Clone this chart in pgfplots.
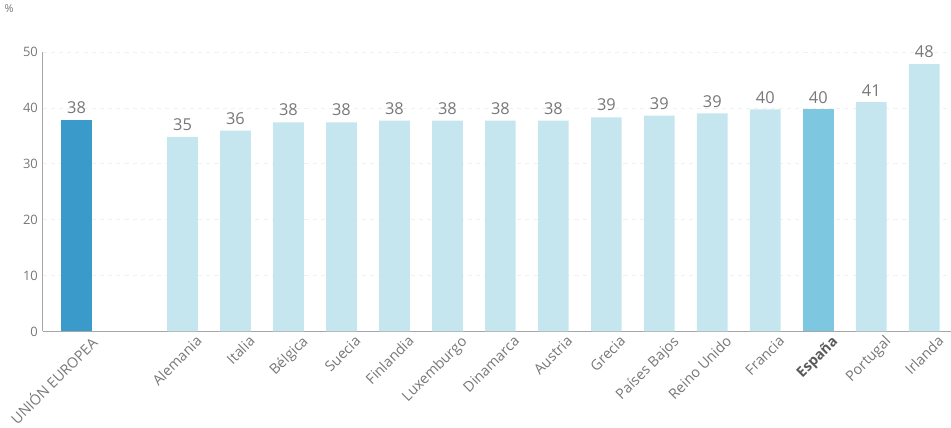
\documentclass[border=0pt]{standalone}
\usepackage{pgfplots}
\pgfplotsset{compat=1.18}
\usepackage{fontspec}
\setmainfont{Open Sans}
\definecolor{eublue}{HTML}{3A9BCB}
\definecolor{lightbar}{HTML}{C6E6EF}
\definecolor{esblue}{HTML}{7DC7E0}
\definecolor{txtgray}{HTML}{777777}
\begin{document}
\begin{tikzpicture}
\begin{axis}[
    scale only axis,
    width=666pt, height=205pt,
    ybar, bar width=22.5pt, bar shift=0pt,
    xmin=-0.64, xmax=16.5,
    ymin=0, ymax=50,
    ytick={0,10,...,50},
    xtick={0,2,3,4,5,6,7,8,9,10,11,12,13,14,15,16},
    xticklabels={UNIÓN EUROPEA,Alemania,Italia,Bélgica,Suecia,Finlandia,Luxemburgo,Dinamarca,Austria,Grecia,Países Bajos,Reino Unido,Francia,\textbf{\color{black!65}España},Portugal,Irlanda},
    x tick label style={rotate=45, anchor=north east, font=\fontsize{10.5}{12}\selectfont, text=txtgray, inner sep=1pt, xshift=6pt, yshift=-7pt},
    y tick label style={font=\fontsize{9.5}{11}\selectfont, text=txtgray},
    /pgf/number format/assume math mode=true,
    major tick length=0pt,
    axis x line*=bottom, axis y line*=left,
    axis line style={gray!70, -},
    ymajorgrids, grid style={gray!12, dashed},
    point meta=explicit symbolic,
    nodes near coords,
    every node near coord/.append style={font=\fontsize{12}{14}\selectfont, text=txtgray, yshift=1pt},
    clip=false,
]
\addplot[fill=eublue, draw=none] coordinates {(0,37.9) [38]};
\addplot[fill=lightbar, draw=none] coordinates {
    (2,34.8) [35]
    (3,35.9) [36]
    (4,37.4) [38]
    (5,37.4) [38]
    (6,37.7) [38]
    (7,37.7) [38]
    (8,37.7) [38]
    (9,37.7) [38]
    (10,38.3) [39]
    (11,38.6) [39]
    (12,39.0) [39]
    (13,39.7) [40]
    (15,41.0) [41]
    (16,47.8) [48]
};
\addplot[fill=esblue, draw=none] coordinates {(14,39.7) [40]};
\node[font=\fontsize{8}{9}\selectfont, text=txtgray] at (rel axis cs:-0.037,1.155) {\%};
\end{axis}
\end{tikzpicture}
\end{document}
